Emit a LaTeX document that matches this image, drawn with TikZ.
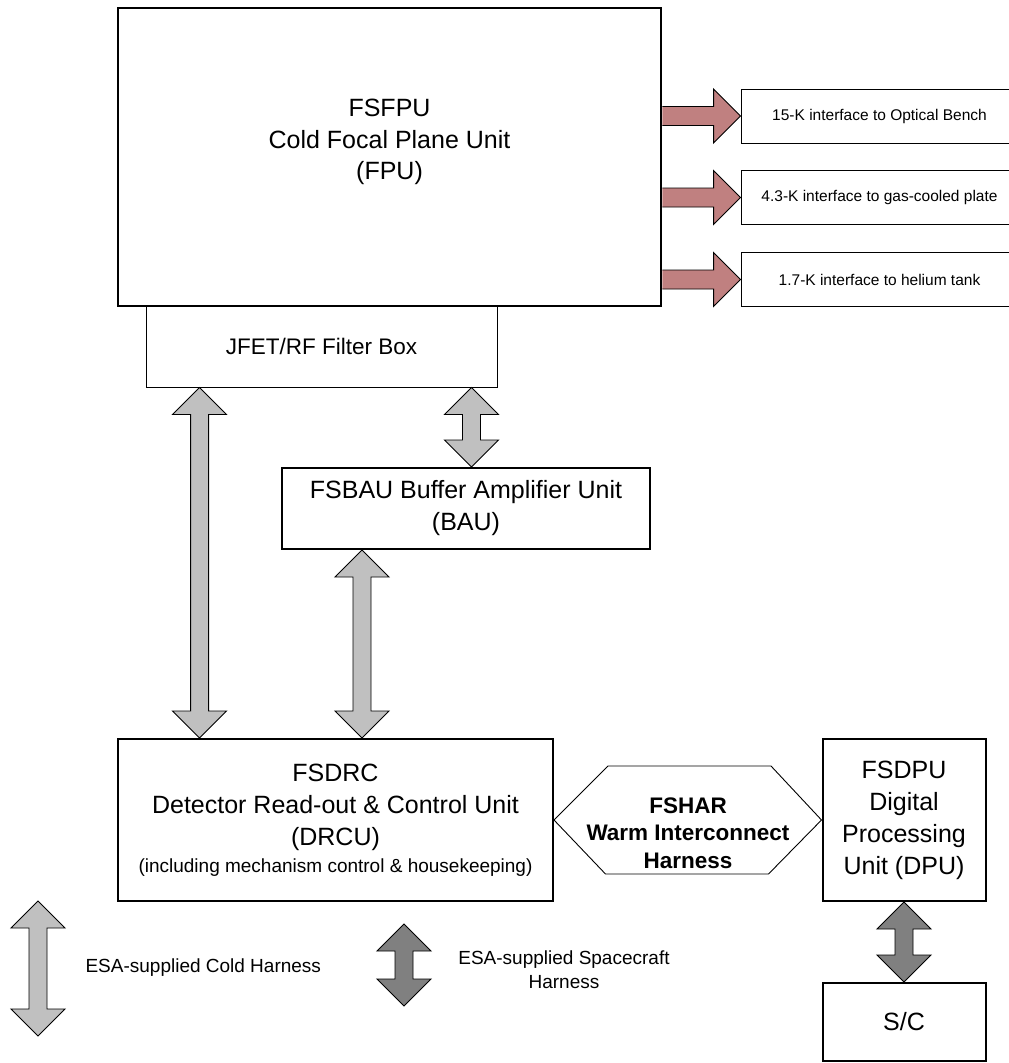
\documentclass[tikz,border=0pt]{standalone}
\usepackage{fontspec}
\setmainfont{Liberation Sans}
\usetikzlibrary{calc}

\definecolor{coldgray}{RGB}{192,192,192}
\definecolor{craftgray}{RGB}{128,128,128}
\definecolor{thermalred}{RGB}{192,128,128}

\tikzset{
  unit/.style={draw, rectangle, line width=2pt, inner sep=0pt, align=center, font=\fontsize{25}{32}\selectfont},
  thinbox/.style={draw, rectangle, line width=0.9pt, inner sep=0pt, align=center},
  harnessfill/.style={draw, line width=0.9pt},
  coldharness/.style={harnessfill, fill=coldgray},
  craftharness/.style={harnessfill, fill=craftgray},
  thermallink/.style={draw, line width=0.9pt, fill=thermalred},
  legendtext/.style={align=center, font=\fontsize{19}{24}\selectfont},
}

% double block arrow: style, upper tip, node giving the lower tip
\newcommand{\harnessarrow}[3]{%
  \draw[#1] let \p1=(#2), \p2=(#3) in
    (\p1) -- ++(-27pt,-27pt) -- ++(18pt,0pt) -- (\x1-9pt,\y2+27pt) -- ++(-18pt,0pt)
    -- (\x1,\y2) -- ++(27pt,27pt) -- ++(-18pt,0pt) -- (\x1+9pt,\y1-27pt) -- ++(18pt,0pt) -- cycle;}

% single block arrow to the right: start point, tip
\newcommand{\thermalarrow}[2]{%
  \draw[thermallink] let \p1=(#1), \p2=(#2) in
    (\x1,\y1+9.5pt) -- (\x2-27pt,\y1+9.5pt) -- (\x2-27pt,\y1+27pt) -- (\x2,\y1)
    -- (\x2-27pt,\y1-27pt) -- (\x2-27pt,\y1-9.5pt) -- (\x1,\y1-9.5pt);}

\begin{document}
\begin{tikzpicture}[x=1pt, y=-1pt]
  \useasboundingbox (0,0) rectangle (1009,1063);
  \clip (0,0) rectangle (1009,1063);

  % Focal plane unit
  \node[unit, line width=2.5pt, minimum width=543, minimum height=298] (fpu) at (389.5,157) {};
  \node[align=center, font=\fontsize{25}{31.5}\selectfont] (fputext) at ($(fpu.center)+(0,-15)$) {FSFPU\\Cold Focal Plane Unit\\(FPU)};
  \node[thinbox, minimum width=351, minimum height=81, font=\fontsize{22.5}{27}\selectfont] (filter) at (321.5,346.5) {JFET/RF Filter Box};

  % Thermal interfaces (boxes run past the right margin)
  \node[thinbox, minimum width=277, minimum height=54, font=\fontsize{15.5}{18}\selectfont] (if1) at (879.5,116) {15-K interface to Optical Bench};
  \node[thinbox, minimum width=277, minimum height=54, font=\fontsize{15.5}{18}\selectfont] (if2) at (879.5,197.5) {4.3-K interface to gas-cooled plate};
  \node[thinbox, minimum width=277, minimum height=54, font=\fontsize{15.5}{18}\selectfont] (if3) at (879.5,279.5) {1.7-K interface to helium tank};

  % Warm units
  \node[unit, minimum width=368, minimum height=81] (bau) at (466,508.5) {FSBAU Buffer Amplifier Unit\\(BAU)};
  \node[unit, minimum width=435, minimum height=162] (drcu) at (335.5,820) {FSDRC\\Detector Read-out \& Control Unit\\(DRCU)\\[-5pt]{\fontsize{19}{23}\selectfont (including mechanism control \& housekeeping)}};
  \node[unit, minimum width=163, minimum height=162] (dpu) at (904,820) {FSDPU\\Digital\\Processing\\Unit (DPU)};
  \node[unit, minimum width=163, minimum height=78] (sc) at (904,1022) {S/C};

  % Warm interconnect harness
  \draw[line width=0.9pt] (drcu.east) -- ++(54,-54) -- ++(163,0) -- (dpu.west) -- ++(-53,54) -- ++(-163,0) -- cycle;
  \node[align=center, font=\bfseries\fontsize{22.5}{27.5}\selectfont] (fshar) at (688,833) {FSHAR\\Warm Interconnect\\Harness};

  % Arrows
  \thermalarrow{fpu.east |- if1.west}{if1.west}
  \thermalarrow{fpu.east |- if2.west}{if2.west}
  \thermalarrow{fpu.east |- if3.west}{if3.west}
  \harnessarrow{coldharness}{$(filter.south west)+(54,0)$}{drcu.north}
  \harnessarrow{coldharness}{$(filter.south east)+(-26,0)$}{bau.north}
  \harnessarrow{coldharness}{$(bau.south west)+(81,0)$}{drcu.north}
  \harnessarrow{craftharness}{dpu.south}{sc.north}

  % Legend
  \coordinate (coldtop) at (38,901);
  \coordinate (coldbot) at (38,1036);
  \coordinate (crafttop) at (404,924);
  \coordinate (craftbot) at (404,1006);
  \harnessarrow{coldharness}{coldtop}{coldbot}
  \harnessarrow{craftharness}{crafttop}{craftbot}
  \node[legendtext, anchor=west] (coldlabel) at (82,968) {ESA-supplied Cold Harness};
  \node[legendtext] (craftlabel) at (564,970) {ESA-supplied Spacecraft\\Harness};
\end{tikzpicture}
\end{document}
